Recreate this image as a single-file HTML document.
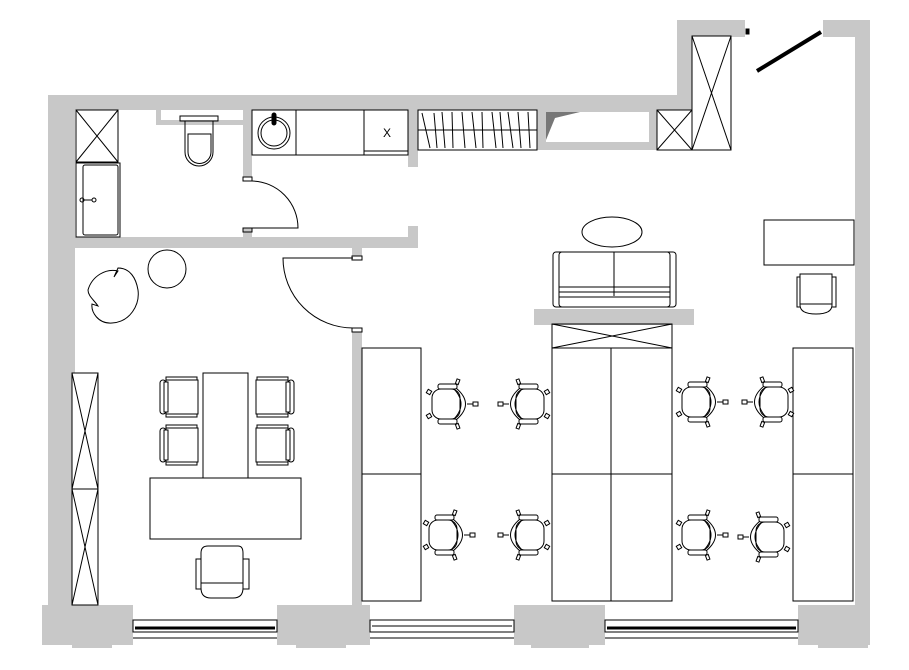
<!DOCTYPE html>
<html><head><meta charset="utf-8"><style>html,body{margin:0;padding:0;background:#fff}svg{display:block}</style></head>
<body>
<svg width="909" height="670" viewBox="0 0 909 670" xmlns="http://www.w3.org/2000/svg">
<defs>
<g id="wc" fill="#fff" stroke="#000" stroke-width="1">
 <rect x="-16" y="-15" width="28" height="30" rx="9"/>
 <path d="M4,-17 Q22,0 4,17" fill="none"/>
 <path d="M8,-16 Q27,0 8,16" fill="none"/>
 <rect x="-10" y="-20" width="19" height="5" rx="2"/>
 <rect x="-10" y="15" width="19" height="5" rx="2"/>
 <rect x="-21" y="-14" width="4" height="4" transform="rotate(30 -19 -12)"/>
 <rect x="-21" y="10" width="4" height="4" transform="rotate(-30 -19 12)"/>
 <rect x="8" y="-25" width="3" height="5" transform="rotate(20 9 -22)"/>
 <rect x="8" y="20" width="3" height="5" transform="rotate(-20 9 22)"/>
 <line x1="19" y1="0" x2="25" y2="0"/>
 <rect x="25" y="-2" width="5" height="4"/>
</g>
<g id="ac" fill="#fff" stroke="#000" stroke-width="1">
 <rect x="6" y="0" width="31" height="40"/>
 <rect x="6" y="3" width="32" height="34"/>
 <rect x="0" y="3" width="6" height="34" rx="3"/>
 <rect x="4" y="5" width="4" height="30"/>
</g>
</defs>
<g fill="#c8c8c8">
 <rect x="48" y="95" width="629" height="15"/>
 <rect x="48" y="95" width="27" height="550"/>
 <rect x="42" y="605" width="91" height="40"/>
 <rect x="75" y="237" width="343" height="11"/>
 <rect x="243" y="110" width="9" height="67"/>
 <rect x="243" y="228" width="9" height="9"/>
 <rect x="156" y="110" width="87" height="15"/>
 <rect x="408" y="110" width="10" height="57"/>
 <rect x="408" y="226" width="10" height="11"/>
 <rect x="352" y="248" width="10" height="8"/>
 <rect x="352" y="332" width="10" height="273"/>
 <rect x="277" y="605" width="93" height="40"/>
 <rect x="514" y="605" width="91" height="40"/>
 <rect x="798" y="605" width="72" height="40"/>
 <rect x="855" y="20" width="15" height="625"/>
 <rect x="823" y="20" width="47" height="17"/>
 <rect x="677" y="20" width="68" height="17"/>
 <rect x="677" y="20" width="15" height="130"/>
 <rect x="537" y="95" width="140" height="55"/>
 <rect x="534" y="309" width="160" height="16"/>
 <rect x="72" y="645" width="40" height="3"/>
 <rect x="296" y="645" width="50" height="3"/>
 <rect x="531" y="645" width="58" height="3"/>
 <rect x="818" y="645" width="50" height="3"/>
</g>
<rect x="161" y="110" width="82" height="10" fill="#fff"/>
<polygon points="546,112 649,112 649,142 546,142" fill="#fff"/>
<polygon points="546,112 580,112 555,118 546,140" fill="#777"/>
<g fill="none" stroke="#000" stroke-width="1">
 <rect x="76" y="110" width="42" height="52" fill="#fff"/><path d="M76,110L118,162M118,110L76,162"/>
 <rect x="76" y="163" width="44" height="74"/><rect x="83" y="165" width="35" height="70" rx="2"/>
 <circle cx="82" cy="200" r="2"/><circle cx="94" cy="200" r="2"/><line x1="84" y1="200" x2="92" y2="200"/>
 <rect x="180" y="116" width="38" height="5"/>
 <path d="M185,121V152A14,14 0 0 0 213,152V121Z"/>
 <path d="M188,134H211V152A11.5,11.5 0 0 1 188,152Z"/>
 <rect x="243" y="177" width="9" height="4"/><rect x="243" y="228" width="9" height="4"/>
 <path d="M252,181A47,47 0 0 1 298,228H252"/>
 <rect x="252" y="110" width="156" height="45"/>
 <line x1="296" y1="110" x2="296" y2="155"/><line x1="364" y1="110" x2="364" y2="155"/>
 <line x1="364" y1="151" x2="408" y2="151"/>
 <circle cx="274" cy="133" r="16"/><circle cx="274" cy="133" r="13"/>
 <rect x="272" y="113" width="4" height="12" rx="2" fill="#000"/>
 <rect x="418" y="110" width="119" height="40" fill="#fff"/><line x1="418" y1="130" x2="537" y2="130"/>
 <path d="M422,113L430,148M434,113L437,148M442,112L445,148M452,112L453,148M462,112L465,148M472,112L476,148M482,112L483,148M492,112L496,148M500,112L503,148M508,112L513,148M518,112L521,148M528,112L530,148"/>
 <rect x="657" y="110" width="35" height="40" fill="#fff"/><path d="M657,110L692,150M692,110L657,150"/>
 <rect x="692" y="36" width="39" height="114" fill="#fff"/><path d="M692,36L731,150M731,36L692,150"/>
 <rect x="352" y="256" width="10" height="4"/><rect x="352" y="328" width="10" height="4"/>
 <path d="M353,258H283A70,70 0 0 0 353,328"/>
 <circle cx="167" cy="269" r="19"/>
 <path d="M118,268C130,268 136,278 138,290C140,305 130,322 112,323C98,324 91,312 92,304L98,306C94,300 88,296 88,290C92,276 106,268 118,271L114,277Z"/>
 <rect x="72" y="373" width="26" height="232" fill="#fff"/><line x1="72" y1="489" x2="98" y2="489"/>
 <path d="M72,373L98,489M98,373L72,489M72,489L98,605M98,489L72,605"/>
 <rect x="203" y="373" width="45" height="105"/>
 <rect x="150" y="478" width="151" height="61"/>
 <rect x="196" y="559" width="53" height="30"/>
 <path d="M201,553Q201,546 208,546H238Q243,546 243,553V588Q243,598 233,598H211Q201,598 201,588Z" fill="#fff"/>
 <line x1="201" y1="583" x2="243" y2="583"/>
 <rect x="362" y="348" width="59" height="253"/><line x1="362" y1="474" x2="421" y2="474"/>
 <rect x="552" y="324" width="120" height="277"/>
 <line x1="552" y1="348" x2="672" y2="348"/><path d="M552,348L672,324M552,324L672,348"/>
 <line x1="611" y1="348" x2="611" y2="601"/><line x1="552" y1="474" x2="672" y2="474"/>
 <rect x="793" y="348" width="60" height="253"/><line x1="793" y1="474" x2="853" y2="474"/>
 <ellipse cx="612" cy="232" rx="30" ry="15"/>
 <rect x="553" y="252" width="123" height="55" rx="3"/>
 <rect x="559" y="252" width="111" height="55" rx="3"/>
 <line x1="614" y1="252" x2="614" y2="296"/>
 <path d="M559,287H670M559,292H670M559,297H670"/>
 <rect x="764" y="220" width="90" height="45"/>
 <rect x="797" y="277" width="39" height="30"/>
 <path d="M800,274H832V305Q832,314 816,314Q800,314 800,305Z" fill="#fff"/>
 <line x1="800" y1="304" x2="832" y2="304"/>
 <line x1="757" y1="71" x2="821" y2="32" stroke-width="4"/>
 <rect x="746" y="29" width="3" height="5" fill="#000"/>
 <g>
 <rect x="133" y="620" width="144" height="12"/><line x1="135" y1="628" x2="275" y2="628" stroke-width="3"/><line x1="133" y1="638" x2="277" y2="638"/>
 <rect x="370" y="620" width="144" height="12"/><line x1="372" y1="626" x2="512" y2="626"/><line x1="370" y1="638" x2="514" y2="638"/>
 <rect x="605" y="620" width="193" height="12"/><line x1="607" y1="628" x2="796" y2="628" stroke-width="3"/><line x1="605" y1="638" x2="798" y2="638"/>
 </g>
</g>
<text x="383" y="137" font-family="Liberation Sans, sans-serif" font-size="12">X</text>
<use href="#ac" x="160" y="377"/>
<use href="#ac" x="160" y="425"/>
<use href="#ac" transform="translate(294,377) scale(-1,1)"/>
<use href="#ac" transform="translate(294,425) scale(-1,1)"/>
<use href="#wc" transform="translate(448,404)"/>
<use href="#wc" transform="translate(528,404) scale(-1,1)"/>
<use href="#wc" transform="translate(698,402)"/>
<use href="#wc" transform="translate(772,402) scale(-1,1)"/>
<use href="#wc" transform="translate(445,535)"/>
<use href="#wc" transform="translate(528,535) scale(-1,1)"/>
<use href="#wc" transform="translate(698,535)"/>
<use href="#wc" transform="translate(768,537) scale(-1,1)"/>
</svg>
</body></html>
